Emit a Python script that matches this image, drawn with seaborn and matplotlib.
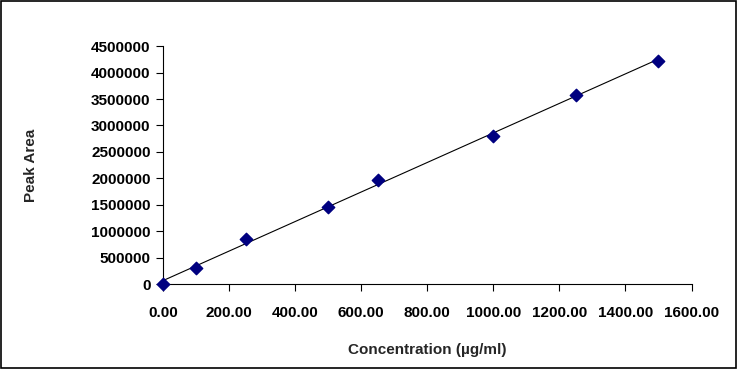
import matplotlib
matplotlib.use('Agg')

import numpy as np
import pandas as pd
import matplotlib.pyplot as plt
import matplotlib.ticker as mticker
import seaborn as sns

# --- 資料 ---
concentration = [0, 100, 250, 500, 650, 1000, 1250, 1500]
peak_area = [0, 303000, 855000, 1460000, 1970000, 2800000, 3580000, 4225000]

x_ticks = [0, 200, 400, 600, 800, 1000, 1200, 1400, 1600]
y_ticks = [0, 500000, 1000000, 1500000, 2000000, 2500000, 3000000, 3500000, 4000000, 4500000]

df = pd.DataFrame({'Concentration': concentration, 'Peak Area': peak_area})

sns.set_theme(style='white')
plt.rcParams['font.family'] = ['Liberation Sans', 'DejaVu Sans']
plt.rcParams['font.weight'] = 'bold'

fig = plt.figure(figsize=(7.38, 3.69), dpi=100)
ax = fig.add_axes([0.221, 0.230, 0.716, 0.645])

sns.regplot(data=df, x='Concentration', y='Peak Area', ax=ax, ci=None,
            marker='D', scatter_kws={'s': 40, 'color': '#000080', 'edgecolor': '#000080',
                                     'alpha': 1, 'zorder': 3, 'clip_on': False},
            line_kws={'color': 'black', 'linewidth': 0.8})

ax.set_xlim(0, 1600)
ax.set_ylim(0, 4500000)
ax.set_xticks(x_ticks)
ax.set_yticks(y_ticks)
ax.xaxis.set_major_formatter(mticker.FormatStrFormatter('%.2f'))
ax.yaxis.set_major_formatter(mticker.FormatStrFormatter('%d'))
ax.tick_params(axis='both', bottom=True, left=True, direction='out', length=5, width=0.8,
               color='black', labelsize=11, labelcolor='black')
ax.tick_params(axis='x', pad=11)
ax.tick_params(axis='y', pad=4)
for lbl in ax.get_xticklabels() + ax.get_yticklabels():
    lbl.set_fontweight('bold')

sns.despine(ax=ax)
for side in ['left', 'bottom']:
    ax.spines[side].set_color('black')
    ax.spines[side].set_linewidth(0.8)

ax.set_xlabel('Concentration (µg/ml)', fontsize=11, fontweight='bold', labelpad=16)
ax.set_ylabel('Peak Area', fontsize=11, fontweight='bold')
ax.yaxis.set_label_coords(-0.237, 0.5)

# 外框
fig.patches.append(plt.Rectangle((0.002, 0.003), 0.995, 0.993, transform=fig.transFigure,
                                 fill=False, edgecolor='black', linewidth=1.2))

fig.savefig('out.png', dpi=100)
